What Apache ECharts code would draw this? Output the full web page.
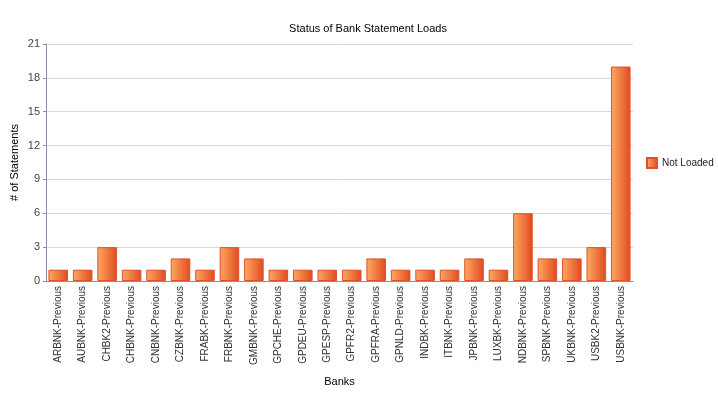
<!DOCTYPE html>
<html><head><meta charset="utf-8">
<script src="https://cdn.jsdelivr.net/npm/echarts@6/dist/echarts.min.js"></script>
<style>html,body{margin:0;padding:0;background:#fff}#c{width:718px;height:395px}</style>
</head><body><div id="c"></div>
<script>
var banks = ["ARBNK-Previous","AUBNK-Previous","CHBK2-Previous","CHBNK-Previous","CNBNK-Previous","CZBNK-Previous","FRABK-Previous","FRBNK-Previous","GMBNK-Previous","GPCHE-Previous","GPDEU-Previous","GPESP-Previous","GPFR2-Previous","GPFRA-Previous","GPNLD-Previous","INDBK-Previous","ITBNK-Previous","JPBNK-Previous","LUXBK-Previous","NDBNK-Previous","SPBNK-Previous","UKBNK-Previous","USBK2-Previous","USBNK-Previous"];
var notLoaded = [1,1,3,1,1,2,1,3,2,1,1,1,1,2,1,1,1,2,1,6,2,2,3,19];
var seriesName = "Not Loaded";
var titleText = "Status of Bank Statement Loads";
var yName = "# of Statements";
var xName = "Banks";

var font = "Arial, 'Liberation Sans', sans-serif";
var grad = new echarts.graphic.LinearGradient(0,0,1,0,[
  {offset:0,color:'#fbaa62'},{offset:0.5,color:'#f07a40'},{offset:1,color:'#df4a22'}]);
var chart = echarts.init(document.getElementById('c'));
chart.setOption({
  animation:false,
  title:{text:titleText,left:363,top:18,textAlign:'center',textStyle:{fontSize:11,fontWeight:'normal',color:'#000',fontFamily:font}},
  legend:{data:[seriesName],orient:'vertical',left:646,top:157,padding:0,itemWidth:10,itemHeight:10,itemGap:4,icon:'rect',
    textStyle:{fontSize:10,color:'#222',fontFamily:font}},
  grid:{left:46,right:85,top:44,bottom:114,containLabel:false,outerBoundsMode:'none'},
  xAxis:{type:'category',data:banks,name:xName,nameLocation:'middle',nameGap:95,nameMoveOverlap:false,
    nameTextStyle:{fontSize:11,color:'#000',fontFamily:font},
    axisLine:{lineStyle:{color:'#8a8ea6',width:1}},axisTick:{show:false},
    axisLabel:{rotate:90,fontSize:10,color:'#333',fontFamily:font,margin:5,interval:0}},
  yAxis:{type:'value',min:0,max:21,interval:3,name:yName,nameLocation:'middle',nameGap:26,nameMoveOverlap:false,
    nameTextStyle:{fontSize:11,color:'#000',fontFamily:font},
    axisLine:{show:true,lineStyle:{color:'#8a8ea6',width:1}},axisTick:{show:true,length:3,lineStyle:{color:'#8a8ea6'}},
    axisLabel:{fontSize:11,color:'#444',fontFamily:font,margin:6},
    splitLine:{lineStyle:{color:'#d6d6e2',width:1}}},
  series:[{name:seriesName,type:'bar',data:notLoaded,barCategoryGap:'20%',
    itemStyle:{color:grad,borderColor:'#e0502a',borderWidth:1}}]
});
</script></body></html>
